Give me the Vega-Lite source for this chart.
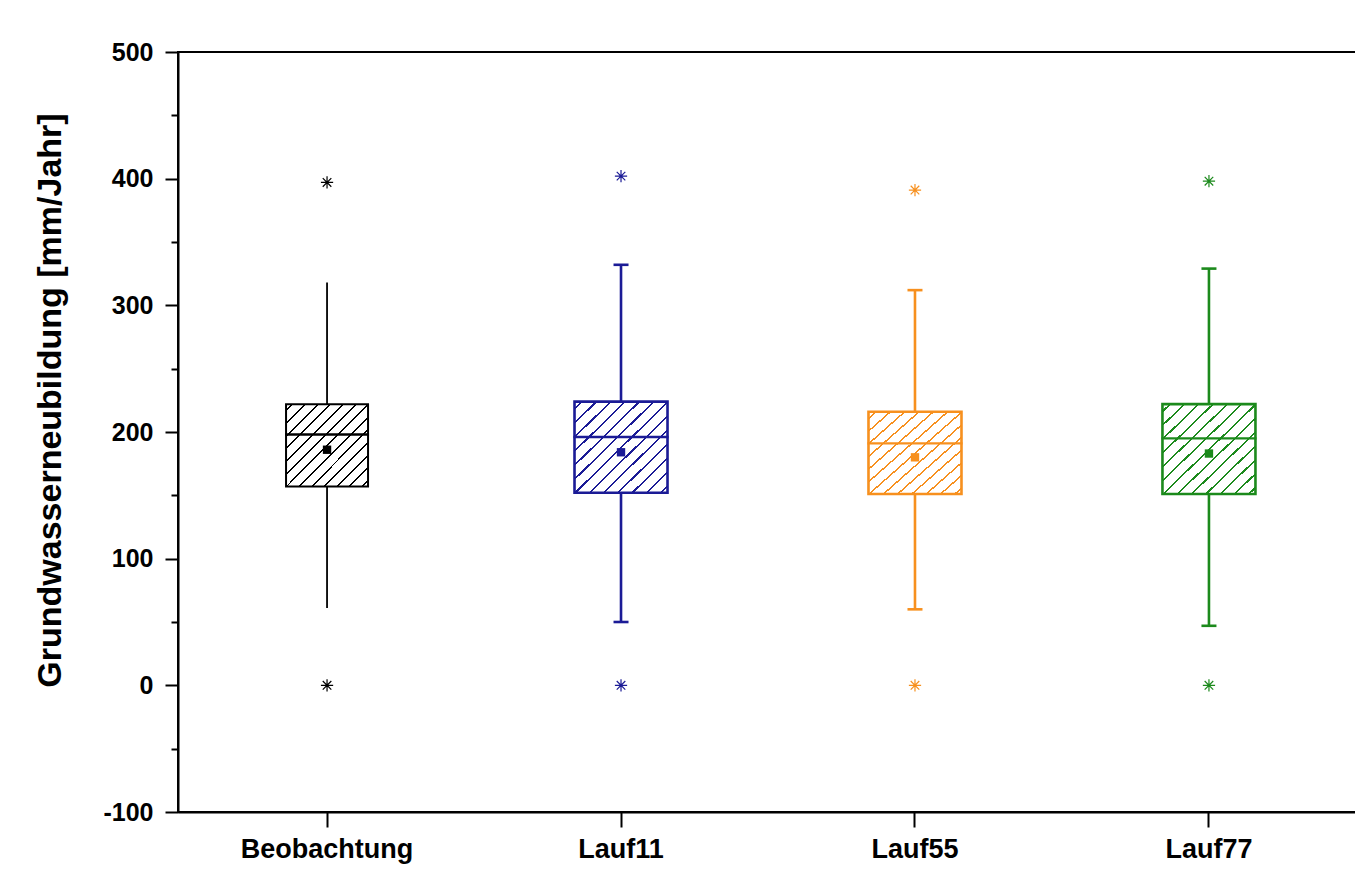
{
  "$schema": "https://vega.github.io/schema/vega-lite/v6.json",
  "width": 1180,
  "height": 760,
  "autosize": "none",
  "padding": {"left": 178, "top": 52, "right": 0, "bottom": 61},
  "background": "white",
  "config": {"view": {"stroke": "black", "strokeWidth": 2}, "font": "Liberation Sans"},
  "datasets": {
    "stats": [
      {"cat": "Beobachtung", "lo": 61, "q1": 157, "med": 198, "q3": 222, "hi": 318, "mean": 186},
      {"cat": "Lauf11", "lo": 50, "q1": 152, "med": 196, "q3": 224, "hi": 332, "mean": 184},
      {"cat": "Lauf55", "lo": 60, "q1": 151, "med": 191, "q3": 216, "hi": 312, "mean": 180},
      {"cat": "Lauf77", "lo": 47, "q1": 151, "med": 195, "q3": 222, "hi": 329, "mean": 183}
    ],
    "outliers": [
      {"cat": "Beobachtung", "v": 397},
      {"cat": "Beobachtung", "v": 0},
      {"cat": "Lauf11", "v": 402},
      {"cat": "Lauf11", "v": 0},
      {"cat": "Lauf55", "v": 391},
      {"cat": "Lauf55", "v": 0},
      {"cat": "Lauf77", "v": 398},
      {"cat": "Lauf77", "v": 0}
    ]
  },
  "encoding": {
    "x": {
      "field": "cat",
      "type": "nominal",
      "sort": ["Beobachtung", "Lauf11", "Lauf55", "Lauf77"],
      "scale": {"type": "band", "paddingInner": 0, "paddingOuter": 0.007, "domain": ["Beobachtung", "Lauf11", "Lauf55", "Lauf77"]},
      "axis": {
        "title": null,
        "labelAngle": 0,
        "labelFont": "Liberation Sans",
        "labelFontWeight": "bold",
        "labelFontSize": 27,
        "labelColor": "black",
        "labelPadding": 9,
        "tickSize": 15,
        "tickWidth": 2,
        "tickColor": "black",
        "domainColor": "black",
        "domainWidth": 2,
        "grid": false
      }
    }
  },
  "layer": [
    {
      "data": {"name": "stats"},
      "mark": {"type": "rule"},
      "encoding": {
        "y": {
          "field": "lo",
          "type": "quantitative",
          "scale": {"domain": [-100, 500], "nice": false, "zero": false},
          "axis": {
            "title": "Grundwasserneubildung [mm/Jahr]",
            "values": [-100, -50, 0, 50, 100, 150, 200, 250, 300, 350, 400, 450, 500],
            "labelExpr": "datum.value % 100 === 0 ? '' + datum.value : ''",
            "tickSize": {"condition": {"test": "datum.value % 100 !== 0", "value": 7}, "value": 13},
            "tickWidth": 2,
            "tickColor": "black",
            "domainColor": "black",
            "domainWidth": 2,
            "labelFont": "Liberation Sans",
            "labelFontWeight": "bold",
            "labelFontSize": 25,
            "labelColor": "black",
            "labelPadding": 12,
            "grid": false,
            "titleFont": "Liberation Sans",
            "titleFontWeight": "bold",
            "titleFontSize": 34,
            "titleColor": "black",
            "titleX": -128,
            "titleY": 348,
            "titleBaseline": "middle",
            "titleAlign": "center",
            "titleAngle": 270
          }
        },
        "y2": {"field": "hi"},
        "color": {
          "field": "cat",
          "type": "nominal",
          "scale": {"domain": ["Beobachtung", "Lauf11", "Lauf55", "Lauf77"], "range": ["#000000", "#1b1b96", "#f7901e", "#1c8a1c"]},
          "legend": null
        },
        "strokeWidth": {"condition": {"test": "datum.cat === 'Beobachtung'", "value": 1.8}, "value": 2.6}
      }
    },
    {
      "data": {"name": "stats"},
      "transform": [{"filter": "datum.cat === 'Beobachtung'"}],
      "mark": {
        "type": "bar", "size": 82, "stroke": "#000000", "strokeWidth": 2,
        "fill": {"gradient": "linear", "x1": 0, "y1": 0, "x2": 1, "y2": 1, "stops": [
          {"offset": 0, "color": "#ffffff"},
          {"offset": 0.035, "color": "#ffffff"}, {"offset": 0.035, "color": "#000000"}, {"offset": 0.047, "color": "#000000"}, {"offset": 0.047, "color": "#ffffff"},
          {"offset": 0.112, "color": "#ffffff"}, {"offset": 0.112, "color": "#000000"}, {"offset": 0.124, "color": "#000000"}, {"offset": 0.124, "color": "#ffffff"},
          {"offset": 0.189, "color": "#ffffff"}, {"offset": 0.189, "color": "#000000"}, {"offset": 0.201, "color": "#000000"}, {"offset": 0.201, "color": "#ffffff"},
          {"offset": 0.266, "color": "#ffffff"}, {"offset": 0.266, "color": "#000000"}, {"offset": 0.278, "color": "#000000"}, {"offset": 0.278, "color": "#ffffff"},
          {"offset": 0.343, "color": "#ffffff"}, {"offset": 0.343, "color": "#000000"}, {"offset": 0.355, "color": "#000000"}, {"offset": 0.355, "color": "#ffffff"},
          {"offset": 0.420, "color": "#ffffff"}, {"offset": 0.420, "color": "#000000"}, {"offset": 0.432, "color": "#000000"}, {"offset": 0.432, "color": "#ffffff"},
          {"offset": 0.497, "color": "#ffffff"}, {"offset": 0.497, "color": "#000000"}, {"offset": 0.509, "color": "#000000"}, {"offset": 0.509, "color": "#ffffff"},
          {"offset": 0.574, "color": "#ffffff"}, {"offset": 0.574, "color": "#000000"}, {"offset": 0.586, "color": "#000000"}, {"offset": 0.586, "color": "#ffffff"},
          {"offset": 0.650, "color": "#ffffff"}, {"offset": 0.650, "color": "#000000"}, {"offset": 0.662, "color": "#000000"}, {"offset": 0.662, "color": "#ffffff"},
          {"offset": 0.727, "color": "#ffffff"}, {"offset": 0.727, "color": "#000000"}, {"offset": 0.739, "color": "#000000"}, {"offset": 0.739, "color": "#ffffff"},
          {"offset": 0.804, "color": "#ffffff"}, {"offset": 0.804, "color": "#000000"}, {"offset": 0.816, "color": "#000000"}, {"offset": 0.816, "color": "#ffffff"},
          {"offset": 0.881, "color": "#ffffff"}, {"offset": 0.881, "color": "#000000"}, {"offset": 0.893, "color": "#000000"}, {"offset": 0.893, "color": "#ffffff"},
          {"offset": 0.958, "color": "#ffffff"}, {"offset": 0.958, "color": "#000000"}, {"offset": 0.970, "color": "#000000"}, {"offset": 0.970, "color": "#ffffff"},
          {"offset": 1, "color": "#ffffff"}
        ]}
      },
      "encoding": {"y": {"field": "q1", "type": "quantitative"}, "y2": {"field": "q3"}}
    },
    {
      "data": {"name": "stats"},
      "transform": [{"filter": "datum.cat === 'Lauf11'"}],
      "mark": {
        "type": "bar", "size": 93, "stroke": "#1b1b96", "strokeWidth": 2.6,
        "fill": {"gradient": "linear", "x1": 0, "y1": 0, "x2": 1, "y2": 1, "stops": [
          {"offset": 0, "color": "#ffffff"},
          {"offset": 0.035, "color": "#ffffff"}, {"offset": 0.035, "color": "#1b1b96"}, {"offset": 0.047, "color": "#1b1b96"}, {"offset": 0.047, "color": "#ffffff"},
          {"offset": 0.112, "color": "#ffffff"}, {"offset": 0.112, "color": "#1b1b96"}, {"offset": 0.124, "color": "#1b1b96"}, {"offset": 0.124, "color": "#ffffff"},
          {"offset": 0.189, "color": "#ffffff"}, {"offset": 0.189, "color": "#1b1b96"}, {"offset": 0.201, "color": "#1b1b96"}, {"offset": 0.201, "color": "#ffffff"},
          {"offset": 0.266, "color": "#ffffff"}, {"offset": 0.266, "color": "#1b1b96"}, {"offset": 0.278, "color": "#1b1b96"}, {"offset": 0.278, "color": "#ffffff"},
          {"offset": 0.343, "color": "#ffffff"}, {"offset": 0.343, "color": "#1b1b96"}, {"offset": 0.355, "color": "#1b1b96"}, {"offset": 0.355, "color": "#ffffff"},
          {"offset": 0.420, "color": "#ffffff"}, {"offset": 0.420, "color": "#1b1b96"}, {"offset": 0.432, "color": "#1b1b96"}, {"offset": 0.432, "color": "#ffffff"},
          {"offset": 0.497, "color": "#ffffff"}, {"offset": 0.497, "color": "#1b1b96"}, {"offset": 0.509, "color": "#1b1b96"}, {"offset": 0.509, "color": "#ffffff"},
          {"offset": 0.574, "color": "#ffffff"}, {"offset": 0.574, "color": "#1b1b96"}, {"offset": 0.586, "color": "#1b1b96"}, {"offset": 0.586, "color": "#ffffff"},
          {"offset": 0.650, "color": "#ffffff"}, {"offset": 0.650, "color": "#1b1b96"}, {"offset": 0.662, "color": "#1b1b96"}, {"offset": 0.662, "color": "#ffffff"},
          {"offset": 0.727, "color": "#ffffff"}, {"offset": 0.727, "color": "#1b1b96"}, {"offset": 0.739, "color": "#1b1b96"}, {"offset": 0.739, "color": "#ffffff"},
          {"offset": 0.804, "color": "#ffffff"}, {"offset": 0.804, "color": "#1b1b96"}, {"offset": 0.816, "color": "#1b1b96"}, {"offset": 0.816, "color": "#ffffff"},
          {"offset": 0.881, "color": "#ffffff"}, {"offset": 0.881, "color": "#1b1b96"}, {"offset": 0.893, "color": "#1b1b96"}, {"offset": 0.893, "color": "#ffffff"},
          {"offset": 0.958, "color": "#ffffff"}, {"offset": 0.958, "color": "#1b1b96"}, {"offset": 0.970, "color": "#1b1b96"}, {"offset": 0.970, "color": "#ffffff"},
          {"offset": 1, "color": "#ffffff"}
        ]}
      },
      "encoding": {"y": {"field": "q1", "type": "quantitative"}, "y2": {"field": "q3"}}
    },
    {
      "data": {"name": "stats"},
      "transform": [{"filter": "datum.cat === 'Lauf55'"}],
      "mark": {
        "type": "bar", "size": 93, "stroke": "#f7901e", "strokeWidth": 2.6,
        "fill": {"gradient": "linear", "x1": 0, "y1": 0, "x2": 1, "y2": 1, "stops": [
          {"offset": 0, "color": "#ffffff"},
          {"offset": 0.035, "color": "#ffffff"}, {"offset": 0.035, "color": "#f7901e"}, {"offset": 0.047, "color": "#f7901e"}, {"offset": 0.047, "color": "#ffffff"},
          {"offset": 0.112, "color": "#ffffff"}, {"offset": 0.112, "color": "#f7901e"}, {"offset": 0.124, "color": "#f7901e"}, {"offset": 0.124, "color": "#ffffff"},
          {"offset": 0.189, "color": "#ffffff"}, {"offset": 0.189, "color": "#f7901e"}, {"offset": 0.201, "color": "#f7901e"}, {"offset": 0.201, "color": "#ffffff"},
          {"offset": 0.266, "color": "#ffffff"}, {"offset": 0.266, "color": "#f7901e"}, {"offset": 0.278, "color": "#f7901e"}, {"offset": 0.278, "color": "#ffffff"},
          {"offset": 0.343, "color": "#ffffff"}, {"offset": 0.343, "color": "#f7901e"}, {"offset": 0.355, "color": "#f7901e"}, {"offset": 0.355, "color": "#ffffff"},
          {"offset": 0.420, "color": "#ffffff"}, {"offset": 0.420, "color": "#f7901e"}, {"offset": 0.432, "color": "#f7901e"}, {"offset": 0.432, "color": "#ffffff"},
          {"offset": 0.497, "color": "#ffffff"}, {"offset": 0.497, "color": "#f7901e"}, {"offset": 0.509, "color": "#f7901e"}, {"offset": 0.509, "color": "#ffffff"},
          {"offset": 0.574, "color": "#ffffff"}, {"offset": 0.574, "color": "#f7901e"}, {"offset": 0.586, "color": "#f7901e"}, {"offset": 0.586, "color": "#ffffff"},
          {"offset": 0.650, "color": "#ffffff"}, {"offset": 0.650, "color": "#f7901e"}, {"offset": 0.662, "color": "#f7901e"}, {"offset": 0.662, "color": "#ffffff"},
          {"offset": 0.727, "color": "#ffffff"}, {"offset": 0.727, "color": "#f7901e"}, {"offset": 0.739, "color": "#f7901e"}, {"offset": 0.739, "color": "#ffffff"},
          {"offset": 0.804, "color": "#ffffff"}, {"offset": 0.804, "color": "#f7901e"}, {"offset": 0.816, "color": "#f7901e"}, {"offset": 0.816, "color": "#ffffff"},
          {"offset": 0.881, "color": "#ffffff"}, {"offset": 0.881, "color": "#f7901e"}, {"offset": 0.893, "color": "#f7901e"}, {"offset": 0.893, "color": "#ffffff"},
          {"offset": 0.958, "color": "#ffffff"}, {"offset": 0.958, "color": "#f7901e"}, {"offset": 0.970, "color": "#f7901e"}, {"offset": 0.970, "color": "#ffffff"},
          {"offset": 1, "color": "#ffffff"}
        ]}
      },
      "encoding": {"y": {"field": "q1", "type": "quantitative"}, "y2": {"field": "q3"}}
    },
    {
      "data": {"name": "stats"},
      "transform": [{"filter": "datum.cat === 'Lauf77'"}],
      "mark": {
        "type": "bar", "size": 93, "stroke": "#1c8a1c", "strokeWidth": 2.6,
        "fill": {"gradient": "linear", "x1": 0, "y1": 0, "x2": 1, "y2": 1, "stops": [
          {"offset": 0, "color": "#ffffff"},
          {"offset": 0.035, "color": "#ffffff"}, {"offset": 0.035, "color": "#1c8a1c"}, {"offset": 0.047, "color": "#1c8a1c"}, {"offset": 0.047, "color": "#ffffff"},
          {"offset": 0.112, "color": "#ffffff"}, {"offset": 0.112, "color": "#1c8a1c"}, {"offset": 0.124, "color": "#1c8a1c"}, {"offset": 0.124, "color": "#ffffff"},
          {"offset": 0.189, "color": "#ffffff"}, {"offset": 0.189, "color": "#1c8a1c"}, {"offset": 0.201, "color": "#1c8a1c"}, {"offset": 0.201, "color": "#ffffff"},
          {"offset": 0.266, "color": "#ffffff"}, {"offset": 0.266, "color": "#1c8a1c"}, {"offset": 0.278, "color": "#1c8a1c"}, {"offset": 0.278, "color": "#ffffff"},
          {"offset": 0.343, "color": "#ffffff"}, {"offset": 0.343, "color": "#1c8a1c"}, {"offset": 0.355, "color": "#1c8a1c"}, {"offset": 0.355, "color": "#ffffff"},
          {"offset": 0.420, "color": "#ffffff"}, {"offset": 0.420, "color": "#1c8a1c"}, {"offset": 0.432, "color": "#1c8a1c"}, {"offset": 0.432, "color": "#ffffff"},
          {"offset": 0.497, "color": "#ffffff"}, {"offset": 0.497, "color": "#1c8a1c"}, {"offset": 0.509, "color": "#1c8a1c"}, {"offset": 0.509, "color": "#ffffff"},
          {"offset": 0.574, "color": "#ffffff"}, {"offset": 0.574, "color": "#1c8a1c"}, {"offset": 0.586, "color": "#1c8a1c"}, {"offset": 0.586, "color": "#ffffff"},
          {"offset": 0.650, "color": "#ffffff"}, {"offset": 0.650, "color": "#1c8a1c"}, {"offset": 0.662, "color": "#1c8a1c"}, {"offset": 0.662, "color": "#ffffff"},
          {"offset": 0.727, "color": "#ffffff"}, {"offset": 0.727, "color": "#1c8a1c"}, {"offset": 0.739, "color": "#1c8a1c"}, {"offset": 0.739, "color": "#ffffff"},
          {"offset": 0.804, "color": "#ffffff"}, {"offset": 0.804, "color": "#1c8a1c"}, {"offset": 0.816, "color": "#1c8a1c"}, {"offset": 0.816, "color": "#ffffff"},
          {"offset": 0.881, "color": "#ffffff"}, {"offset": 0.881, "color": "#1c8a1c"}, {"offset": 0.893, "color": "#1c8a1c"}, {"offset": 0.893, "color": "#ffffff"},
          {"offset": 0.958, "color": "#ffffff"}, {"offset": 0.958, "color": "#1c8a1c"}, {"offset": 0.970, "color": "#1c8a1c"}, {"offset": 0.970, "color": "#ffffff"},
          {"offset": 1, "color": "#ffffff"}
        ]}
      },
      "encoding": {"y": {"field": "q1", "type": "quantitative"}, "y2": {"field": "q3"}}
    },
    {
      "data": {"name": "stats"},
      "mark": {"type": "tick", "orient": "horizontal", "opacity": 1, "thickness": 2.4},
      "encoding": {
        "y": {"field": "med", "type": "quantitative"},
        "color": {"field": "cat", "type": "nominal", "legend": null},
        "size": {"condition": {"test": "datum.cat === 'Beobachtung'", "value": 84}, "value": 95}
      }
    },
    {
      "data": {"name": "stats"},
      "transform": [{"filter": "datum.cat !== 'Beobachtung'"}],
      "mark": {"type": "tick", "orient": "horizontal", "opacity": 1, "thickness": 2.6, "size": 15},
      "encoding": {
        "y": {"field": "hi", "type": "quantitative"},
        "color": {"field": "cat", "type": "nominal", "legend": null}
      }
    },
    {
      "data": {"name": "stats"},
      "transform": [{"filter": "datum.cat !== 'Beobachtung'"}],
      "mark": {"type": "tick", "orient": "horizontal", "opacity": 1, "thickness": 2.6, "size": 15},
      "encoding": {
        "y": {"field": "lo", "type": "quantitative"},
        "color": {"field": "cat", "type": "nominal", "legend": null}
      }
    },
    {
      "data": {"name": "stats"},
      "mark": {"type": "point", "shape": "square", "filled": true, "opacity": 1, "size": 70},
      "encoding": {
        "y": {"field": "mean", "type": "quantitative"},
        "color": {"field": "cat", "type": "nominal", "legend": null}
      }
    },
    {
      "data": {"name": "outliers"},
      "mark": {"type": "point", "shape": "M-1,0L1,0M0,-1L0,1M-0.7,-0.7L0.7,0.7M-0.7,0.7L0.7,-0.7", "filled": false, "opacity": 1, "size": 150, "strokeWidth": 1.2},
      "encoding": {
        "y": {"field": "v", "type": "quantitative"},
        "color": {"field": "cat", "type": "nominal", "legend": null}
      }
    }
  ]
}
